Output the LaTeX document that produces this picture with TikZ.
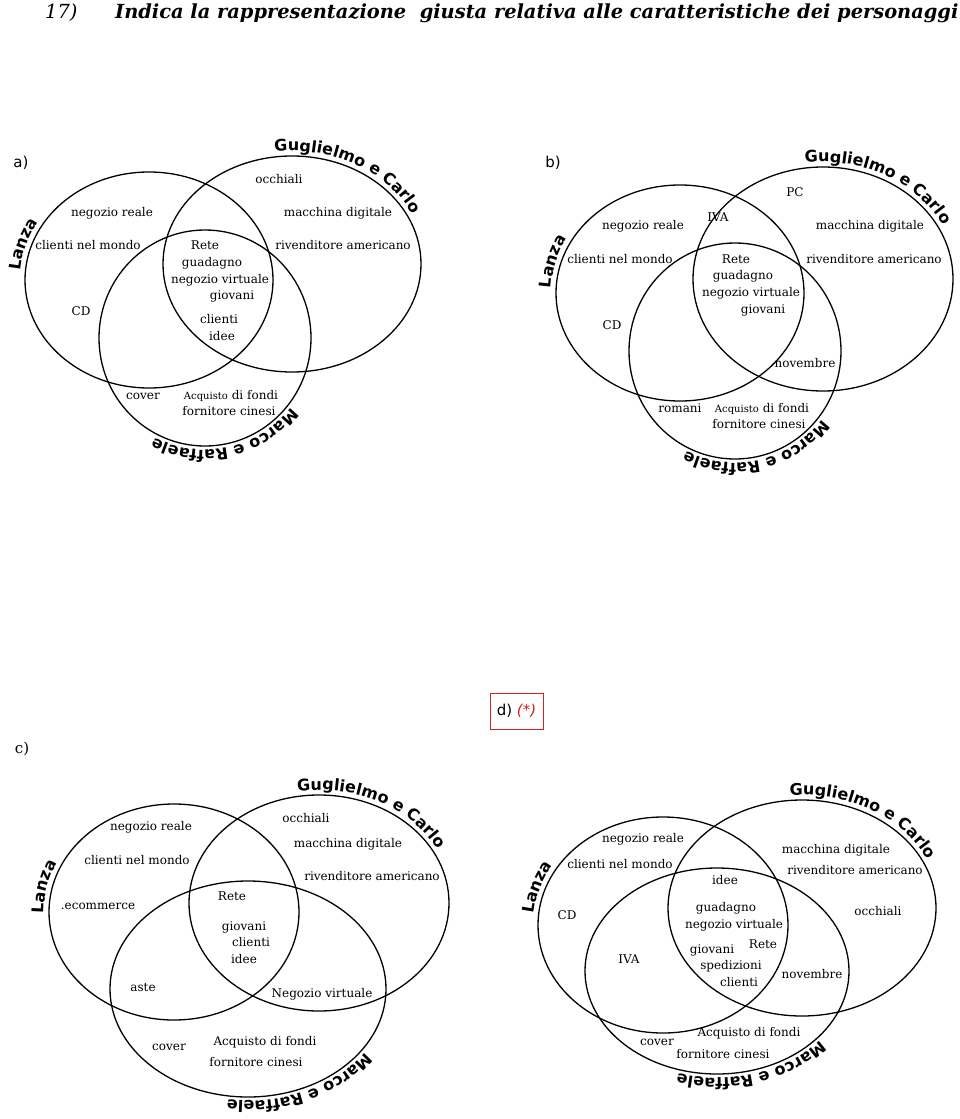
\documentclass[tikz,border=0pt]{standalone}
\usepackage{fontspec}
\usetikzlibrary{decorations.text}
\setmainfont{DejaVu Serif}
\newfontfamily\namefont{DejaVu Sans}
\newfontfamily\tagfont{DejaVu Sans}
\definecolor{boxred}{RGB}{205,35,35}

\tikzset{
  set/.style={line width=1.3pt},
  lab/.style={font=\fontsize{12}{14}\selectfont, anchor=mid, inner sep=0pt},
  tag/.style={font=\fontsize{15}{18}\tagfont, anchor=mid, inner sep=0pt},
  who/.style={decorate, decoration={text along path, text align=center,
      text={|\fontsize{16}{18}\namefont\bfseries|#1}}},
}

\begin{document}
\begin{tikzpicture}[x=1pt, y=1pt]
\useasboundingbox (0,0) rectangle (960,-1119);

% title
\node[anchor=base west, inner sep=0pt, font=\fontsize{19.4}{22}\selectfont\itshape] (num) at (45,-18) {17)};
\node[anchor=base west, inner sep=0pt, font=\fontsize{19.4}{22}\selectfont\bfseries\itshape] (title) at (115,-18) {Indica la rappresentazione\ \ giusta relativa alle caratteristiche dei personaggi};

% a)
\node[tag] (la) at (21,-165) {a)};
\draw[set] (149,-280) ellipse [x radius=124, y radius=108];
\draw[set] (292,-264) ellipse [x radius=129, y radius=108];
\draw[set] (205,-338) ellipse [x radius=106, y radius=108];
\path[who=Lanza] (149,-280) ++(200:129 and 113) arc [start angle=200, end angle=126, x radius=129, y radius=113];
\path[who=Guglielmo e Carlo] (292,-264) ++(120:134 and 113) arc [start angle=120, end angle=0, x radius=134, y radius=113];
\path[who=Marco e Raffaele] (205,-338) ++(-20:110 and 112) arc [start angle=-20, end angle=-136, x radius=110, y radius=112];
\node[lab] (aneg) at (112,-214) {negozio reale};
\node[lab] (acli) at (88,-247) {clienti nel mondo};
\node[lab] (acd) at (81,-313) {CD};
\node[lab] (aocc) at (279,-181) {occhiali};
\node[lab] (amac) at (338,-214) {macchina digitale};
\node[lab] (ariv) at (343,-247) {rivenditore americano};
\node[lab] (arete) at (205,-247) {Rete};
\node[lab] (aguad) at (212,-264) {guadagno};
\node[lab] (avirt) at (220,-281) {negozio virtuale};
\node[lab] (agiov) at (232,-297) {giovani};
\node[lab] (aclienti) at (219,-321) {clienti};
\node[lab] (aidee) at (222,-338) {idee};
\node[lab] (acover) at (143,-397) {cover};
\node[lab] (aacq) at (231,-397) {{\fontsize{10}{12}\selectfont Acquisto} di fondi};
\node[lab] (aforn) at (229,-413) {fornitore cinesi};

% b)
\node[tag] (lb) at (553,-165) {b)};
\draw[set] (680,-293) ellipse [x radius=124, y radius=108];
\draw[set] (823,-279) ellipse [x radius=130, y radius=112];
\draw[set] (735,-351) ellipse [x radius=106, y radius=108];
\path[who=Lanza] (680,-293) ++(202:129 and 113) arc [start angle=202, end angle=128, x radius=129, y radius=113];
\path[who=Guglielmo e Carlo] (823,-279) ++(121:135 and 117) arc [start angle=121, end angle=1, x radius=135, y radius=117];
\path[who=Marco e Raffaele] (735,-351) ++(-19:110 and 112) arc [start angle=-19, end angle=-135, x radius=110, y radius=112];
\node[lab] (bpc) at (795,-194) {PC};
\node[lab] (biva) at (718,-219) {IVA};
\node[lab] (bneg) at (643,-227) {negozio reale};
\node[lab] (bmac) at (870,-227) {macchina digitale};
\node[lab] (bcli) at (620,-261) {clienti nel mondo};
\node[lab] (brete) at (736,-261) {Rete};
\node[lab] (briv) at (874,-261) {rivenditore americano};
\node[lab] (bguad) at (743,-277) {guadagno};
\node[lab] (bvirt) at (751,-294) {negozio virtuale};
\node[lab] (bgiov) at (763,-311) {giovani};
\node[lab] (bcd) at (612,-327) {CD};
\node[lab] (bnov) at (805,-365) {novembre};
\node[lab] (brom) at (680,-410) {romani};
\node[lab] (bacq) at (762,-410) {{\fontsize{10}{12}\selectfont Acquisto} di fondi};
\node[lab] (bforn) at (759,-426) {fornitore cinesi};

% c)
\node[tag, font=\fontsize{15}{18}\selectfont] (lc) at (22,-751) {c)};
\draw[set] (174,-912) ellipse [x radius=125, y radius=108];
\draw[set] (319,-903) ellipse [x radius=130, y radius=108];
\draw[set] (248,-989) ellipse [x radius=138, y radius=108];
\path[who=Lanza] (174,-912) ++(205:130 and 113) arc [start angle=205, end angle=131, x radius=130, y radius=113];
\path[who=Guglielmo e Carlo] (319,-903) ++(122:135 and 113) arc [start angle=122, end angle=2, x radius=135, y radius=113];
\path[who=Marco e Raffaele] (248,-989) ++(-6:142 and 112) arc [start angle=-6, end angle=-122, x radius=142, y radius=112];
\node[lab] (cneg) at (151,-828) {negozio reale};
\node[lab] (ccli) at (137,-862) {clienti nel mondo};
\node[lab] (ceco) at (98,-907) {.ecommerce};
\node[lab] (cocc) at (306,-820) {occhiali};
\node[lab] (cmac) at (348,-845) {macchina digitale};
\node[lab] (criv) at (372,-878) {rivenditore americano};
\node[lab] (crete) at (232,-898) {Rete};
\node[lab] (cgiov) at (244,-928) {giovani};
\node[lab] (cclienti) at (251,-944) {clienti};
\node[lab] (cidee) at (244,-961) {idee};
\node[lab] (caste) at (143,-989) {aste};
\node[lab] (cvirt) at (322,-995) {Negozio virtuale};
\node[lab] (ccover) at (169,-1048) {cover};
\node[lab] (cacq) at (265,-1043) {Acquisto di fondi};
\node[lab] (cforn) at (256,-1064) {fornitore cinesi};

% d)
\node[draw=boxred, line width=0.8pt, minimum width=53, minimum height=36, inner sep=0pt, font=\fontsize{15}{18}\tagfont] (ld) at (516.5,-711) {d) \textcolor{boxred}{\itshape(*)}};
\draw[set] (663,-925) ellipse [x radius=125, y radius=108];
\draw[set] (802,-908) ellipse [x radius=134, y radius=108];
\draw[set] (717,-971) ellipse [x radius=132, y radius=103];
\path[who=Lanza] (663,-925) ++(199:130 and 113) arc [start angle=199, end angle=125, x radius=130, y radius=113];
\path[who=Guglielmo e Carlo] (802,-908) ++(118:139 and 113) arc [start angle=118, end angle=-2, x radius=139, y radius=113];
\path[who=Marco e Raffaele] (717,-971) ++(-14:136 and 107) arc [start angle=-14, end angle=-130, x radius=136, y radius=107];
\node[lab] (dneg) at (643,-840) {negozio reale};
\node[lab] (dcli) at (620,-866) {clienti nel mondo};
\node[lab] (dmac) at (836,-851) {macchina digitale};
\node[lab] (driv) at (855,-872) {rivenditore americano};
\node[lab] (didee) at (725,-882) {idee};
\node[lab] (dcd) at (567,-917) {CD};
\node[lab] (docc) at (878,-913) {occhiali};
\node[lab] (dguad) at (726,-909) {guadagno};
\node[lab] (dvirt) at (734,-926) {negozio virtuale};
\node[lab] (dgiov) at (712,-951) {giovani};
\node[lab] (drete) at (763,-946) {Rete};
\node[lab] (dsped) at (731,-967) {spedizioni};
\node[lab] (diva) at (629,-961) {IVA};
\node[lab] (dnov) at (812,-976) {novembre};
\node[lab] (dclienti) at (739,-984) {clienti};
\node[lab] (dacq) at (749,-1034) {Acquisto di fondi};
\node[lab] (dcover) at (657,-1043) {cover};
\node[lab] (dforn) at (723,-1056) {fornitore cinesi};
\end{tikzpicture}
\end{document}
